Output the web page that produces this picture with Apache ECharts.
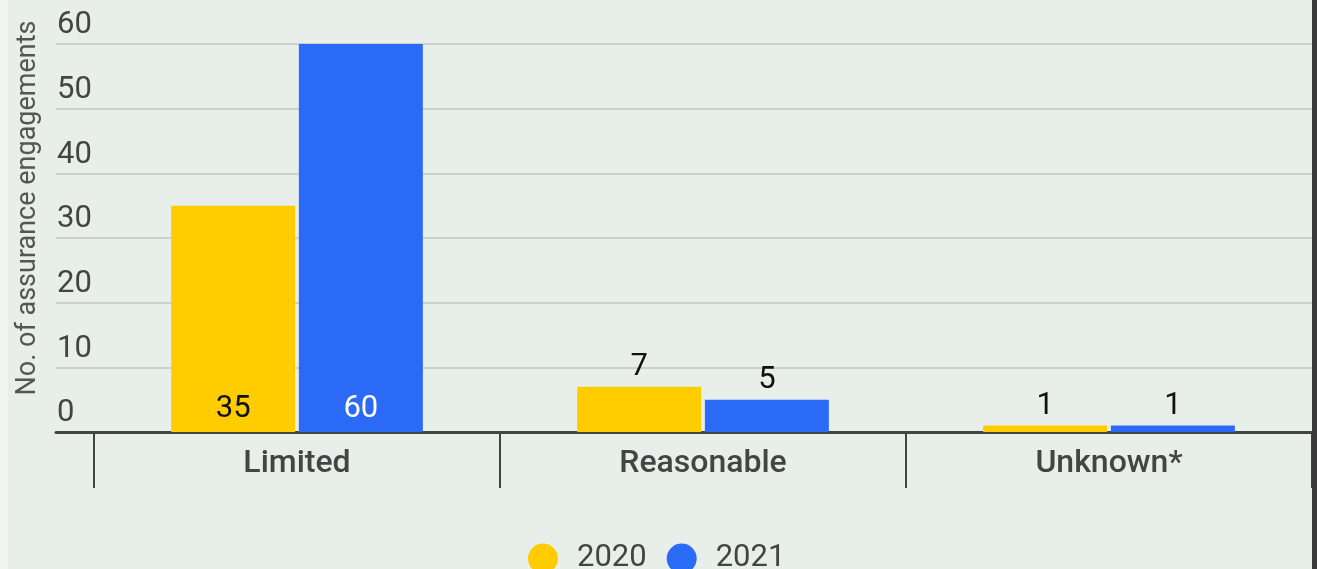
<!DOCTYPE html>
<html>
<head>
<meta charset="utf-8">
<script src="https://cdn.jsdelivr.net/npm/echarts@6/dist/echarts.min.js"></script>
<style>
  html, body { margin: 0; padding: 0; background: #e8efea; }
  #wrap { position: relative; width: 1317px; height: 569px; }
  #chart { width: 1317px; height: 569px; }
  .edge-l { position: absolute; left: 0; top: 0; width: 8px; height: 569px; background: #f1f4f2; }
  .edge-r { position: absolute; right: 0; top: 0; width: 5px; height: 569px; background: #3a3a3a; }
</style>
</head>
<body>
<div id="wrap">
  <div id="chart"></div>
  <div class="edge-l"></div>
  <div class="edge-r"></div>
</div>
<script>
const categories = ["Limited", "Reasonable", "Unknown*"];
const seriesNames = ["2020", "2021"];
const values2020 = [35, 7, 1];
const values2021 = [60, 5, 1];
const yTicks = { min: 0, max: 60, interval: 10 };

const textColor = "#444";
const fontFamily = "Roboto, 'Noto Sans', sans-serif";

// big bars get their label inside at the bottom, small ones above
function toItems(values, insideColor) {
  return values.map((v) => ({
    value: v,
    label: v > 20
      ? { position: "insideBottom", color: insideColor, distance: 7 }
      : { position: "top", color: "#111", distance: 4 },
  }));
}

const chart = echarts.init(document.getElementById("chart"));

chart.setOption({
  backgroundColor: "#e8efea",
  textStyle: { fontFamily },
  grid: [
    // grid for y gridlines + long baseline
    { left: 56, right: 5, top: 44, bottom: 137, outerBoundsMode: "none" },
    // grid for the bars and category ticks
    { left: 94, right: 5, top: 44, bottom: 137, outerBoundsMode: "none" },
  ],
  legend: {
    data: seriesNames,
    top: 538,
    left: 523,
    icon: "circle",
    itemWidth: 30,
    itemHeight: 30,
    itemGap: 20,
    textStyle: { color: textColor, fontSize: 31, padding: [0, 0, 0, 14] },
  },
  xAxis: [
    {
      gridIndex: 0,
      type: "category",
      data: [""],
      axisLine: { show: true, lineStyle: { color: textColor, width: 3 } },
      axisTick: { show: false },
      axisLabel: { show: false },
    },
    {
      gridIndex: 1,
      type: "category",
      data: categories,
      axisLine: { show: false },
      axisTick: {
        show: true,
        length: 56,
        interval: 0,
        lineStyle: { color: textColor, width: 2 },
      },
      axisLabel: {
        color: textColor,
        fontSize: 32,
        fontWeight: 500,
        margin: 16,
        interval: 0,
      },
    },
  ],
  yAxis: [
    {
      gridIndex: 0,
      type: "value",
      min: yTicks.min,
      max: yTicks.max,
      interval: yTicks.interval,
      name: "No. of assurance engagements",
      nameLocation: "middle",
      nameRotate: 90,
      nameGap: 14,
      // shift the title up a bit, it sits above the plot middle
      nameTextStyle: { color: "#555", fontSize: 27, padding: [0, 0, 0, 60] },
      axisLine: { show: false },
      axisTick: { show: false },
      axisLabel: {
        inside: true,
        margin: 1,
        color: textColor,
        fontSize: 31,
        verticalAlign: "bottom",
        padding: [0, 0, 3, 0],
      },
      splitLine: { lineStyle: { color: "#cbd1cd", width: 2 } },
    },
    {
      gridIndex: 1,
      type: "value",
      min: yTicks.min,
      max: yTicks.max,
      interval: yTicks.interval,
      show: false,
      splitLine: { show: false },
    },
  ],
  series: [
    {
      name: seriesNames[0],
      type: "bar",
      xAxisIndex: 1,
      yAxisIndex: 1,
      barWidth: 124,
      barGap: "3%",
      itemStyle: { color: "#ffcc00" },
      label: { show: true, fontSize: 31 },
      data: toItems(values2020, "#111"),
      z: 3,
    },
    {
      name: seriesNames[1],
      type: "bar",
      xAxisIndex: 1,
      yAxisIndex: 1,
      barWidth: 124,
      barGap: "3%",
      itemStyle: { color: "#2b6af6" },
      label: { show: true, fontSize: 31 },
      data: toItems(values2021, "#fff"),
      z: 3,
    },
  ],
});
</script>
</body>
</html>
